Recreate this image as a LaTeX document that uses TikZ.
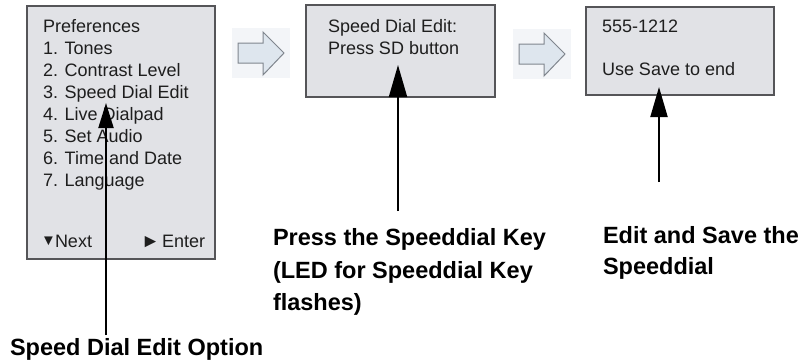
\documentclass[tikz,border=0pt]{standalone}
\usepackage{fontspec}
\setmainfont{Liberation Sans}
\usetikzlibrary{arrows.meta}
\definecolor{boxfill}{RGB}{225,226,230}
\definecolor{boxline}{RGB}{85,85,88}
\definecolor{arrfill}{RGB}{222,230,238}
\definecolor{arrline}{RGB}{128,134,142}
\definecolor{arrbg}{RGB}{243,245,248}
\definecolor{menutext}{RGB}{30,30,30}
\begin{document}
\begin{tikzpicture}[x=1pt,y=-1pt,
  screen/.style={draw=boxline,fill=boxfill,line width=1.1pt,anchor=north west,inner sep=0pt,outer sep=0pt},
  menu/.style={anchor=base west,inner sep=0pt,outer sep=0pt,font=\fontsize{18}{22}\selectfont,text=menutext},
  sym/.style={anchor=base west,inner sep=0pt,outer sep=0pt,font=\fontsize{15}{18}\selectfont,text=menutext},
  caption/.style={anchor=base west,inner sep=0pt,outer sep=0pt,font=\fontsize{23.5}{30}\selectfont\bfseries},
  hollowbg/.style={fill=arrbg,inner sep=0pt,outer sep=0pt,minimum width=58pt,minimum height=50pt},
  hollow/.style={draw=arrline,fill=arrfill,line width=1pt,line join=miter},
  pointer/.style={line width=2pt,draw=black}
]
\path[use as bounding box] (0,0) rectangle (803,362);

% screens
\node[screen,minimum width=188pt,minimum height=253pt] (s1) at (27,6) {};
\node[screen,minimum width=189pt,minimum height=92pt] (s2) at (306,5) {};
\node[screen,minimum width=188pt,minimum height=88pt] (s3) at (586,7) {};

% screen 1 text
\node[menu] (m0) at (43,32) {Preferences};
\node[menu] (m1) at (43,54) {1. Tones};
\node[menu] (m2) at (43,76) {2. Contrast Level};
\node[menu] (m3) at (43,98) {3. Speed Dial Edit};
\node[menu] (m4) at (43,120) {4. Live Dialpad};
\node[menu] (m5) at (43,142) {5. Set Audio};
\node[menu] (m6) at (43,164) {6. Time and Date};
\node[menu] (m7) at (43,186) {7. Language};
\node[sym] (dn) at (41,245) {▼};
\node[menu] (nx) at (55,247) {Next};
\node[sym,font=\fontsize{19}{20}\selectfont] (rt) at (141,247) {►};
\node[menu] (en) at (162,247) {Enter};

% screen 2 text
\node[menu] (a0) at (328,32) {Speed Dial Edit:};
\node[menu] (a1) at (328,54) {Press SD button};

% screen 3 text
\node[menu] (b0) at (602,32) {555-1212};
\node[menu] (b1) at (602,75) {Use Save to end};

% hollow arrows
\node[hollowbg] (h1) at (261,53) {};
\node[hollowbg] (h2) at (542,54) {};
\draw[hollow] ([shift={(-23,-10)}]h1.center) -- ++(25,0) -- ++(0,-11) -- ([shift={(23,0)}]h1.center)
  -- ([shift={(2,22)}]h1.center) -- ++(0,-12) -- ([shift={(-23,10)}]h1.center) -- cycle;
\draw[hollow] ([shift={(-23,-10)}]h2.center) -- ++(25,0) -- ++(0,-11) -- ([shift={(23,0)}]h2.center)
  -- ([shift={(2,22)}]h2.center) -- ++(0,-12) -- ([shift={(-23,10)}]h2.center) -- cycle;

% captions
\node[caption] (c1) at (10,355) {Speed Dial Edit Option};
\node[caption] (c2a) at (273,245) {Press the Speeddial Key};
\node[caption] (c2b) at (273,278) {(LED for Speeddial Key};
\node[caption] (c2c) at (273,310) {flashes)};
\node[caption] (c3a) at (603,243) {Edit and Save the};
\node[caption] (c3b) at (603,274) {Speeddial};

% pointers
\coordinate (t1) at (106,103);
\coordinate (f1) at (106,335);
\coordinate (t2) at (398,65);
\coordinate (f2) at (398,211);
\coordinate (t3) at (659,87);
\coordinate (f3) at (659,182);
\draw[pointer,-{Triangle[length=25pt,width=15pt]}] (f1) -- (t1);
\draw[pointer,-{Triangle[length=32pt,width=18pt]}] (f2) -- (t2);
\draw[pointer,-{Triangle[length=30pt,width=17pt]}] (f3) -- (t3);
\end{tikzpicture}
\end{document}
